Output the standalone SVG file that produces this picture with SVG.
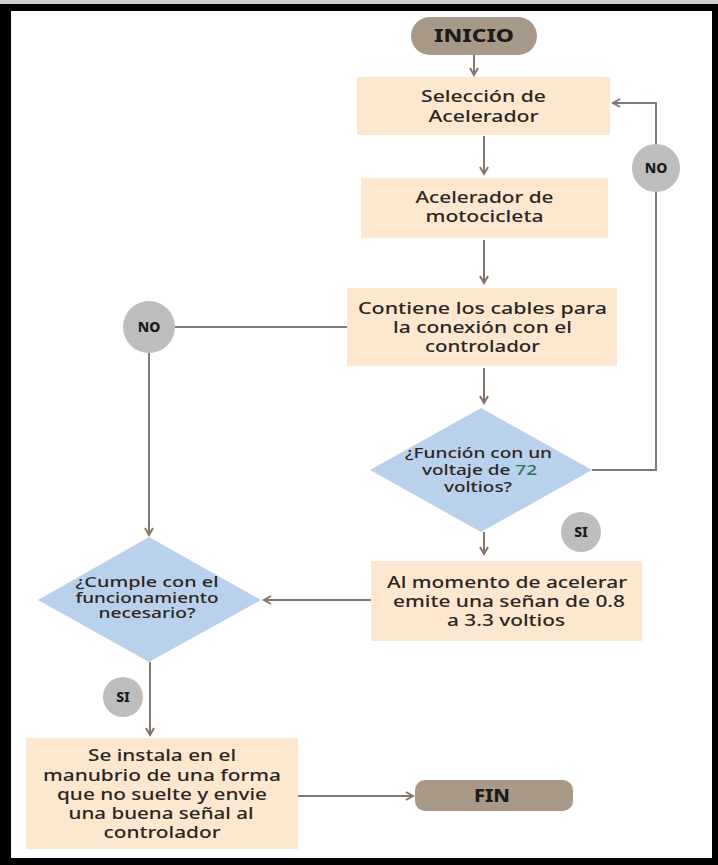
<svg xmlns="http://www.w3.org/2000/svg" width="718" height="865" viewBox="0 0 718 865">
<style>
.box{fill:#fde8cf}
.dia{fill:#b9d1ea}
.pill{fill:#a89887}
.circ{fill:#bdbdbd}
.t{font-family:"Noto Sans","Open Sans",sans-serif;font-weight:500;font-size:16px;fill:#2b2622;text-anchor:middle}
.ts{font-size:13.5px}
.tl{font-family:"Noto Sans",sans-serif;font-weight:800;font-size:14px;fill:#1a1a1a;text-anchor:middle}
.tp{font-family:"Noto Sans",sans-serif;font-weight:800;font-size:18px;fill:#1e1b19;text-anchor:middle}
.c{fill:none;stroke:#85776d;stroke-width:2}
</style>
<defs>
<marker id="ah" markerWidth="10" markerHeight="10" refX="8" refY="5" orient="auto" markerUnits="userSpaceOnUse">
<path d="M1,1 L8,5 L1,9" fill="none" stroke="#85776d" stroke-width="2"/>
</marker>
</defs>
<rect x="0" y="0" width="718" height="865" fill="#000"/>
<rect x="0" y="0" width="718" height="4" fill="#cfcfcf"/>
<rect x="11" y="11" width="701" height="847" fill="#fff"/>

<g id="connectors">
<line class="c" x1="474" y1="55" x2="474" y2="75" marker-end="url(#ah)"/>
<line class="c" x1="484" y1="136" x2="484" y2="174" marker-end="url(#ah)"/>
<line class="c" x1="484" y1="240" x2="484" y2="283" marker-end="url(#ah)"/>
<line class="c" x1="484" y1="368" x2="484" y2="403" marker-end="url(#ah)"/>
<polyline class="c" points="592,470 656,470 656,103 613,103" marker-end="url(#ah)"/>
<line class="c" x1="484" y1="532" x2="484" y2="554" marker-end="url(#ah)"/>
<line class="c" x1="371" y1="600" x2="264" y2="600" marker-end="url(#ah)"/>
<line class="c" x1="347" y1="327" x2="175" y2="327"/>
<line class="c" x1="149" y1="353" x2="149" y2="535" marker-end="url(#ah)"/>
<line class="c" x1="150" y1="662" x2="150" y2="735" marker-end="url(#ah)"/>
<line class="c" x1="298" y1="796" x2="413" y2="796" marker-end="url(#ah)"/>
</g>

<g id="inicio">
<rect class="pill" x="411" y="17" width="126" height="38" rx="19"/>
<text class="tp" x="474" y="42" textLength="80" lengthAdjust="spacingAndGlyphs">INICIO</text>
</g>
<g id="seleccion">
<rect class="box" x="357" y="77" width="253" height="58"/>
<text class="t" x="483.5" y="102" textLength="125" lengthAdjust="spacingAndGlyphs">Selección de</text>
<text class="t" x="483.5" y="122" textLength="110" lengthAdjust="spacingAndGlyphs">Acelerador</text>
</g>
<g id="acelerador">
<rect class="box" x="361" y="178" width="247" height="60"/>
<text class="t" x="484.5" y="203" textLength="138" lengthAdjust="spacingAndGlyphs">Acelerador de</text>
<text class="t" x="484.5" y="222" textLength="118" lengthAdjust="spacingAndGlyphs">motocicleta</text>
</g>
<g id="cables">
<rect class="box" x="347" y="288" width="270" height="78"/>
<text class="t" x="482.5" y="314" textLength="249" lengthAdjust="spacingAndGlyphs">Contiene los cables para</text>
<text class="t" x="482.5" y="333" textLength="179" lengthAdjust="spacingAndGlyphs">la conexión con el</text>
<text class="t" x="482.5" y="352" textLength="115" lengthAdjust="spacingAndGlyphs">controlador</text>
</g>
<g id="voltaje">
<polygon class="dia" points="481,408 592,470 481,532 370,470"/>
<text class="t ts" x="478.5" y="458" textLength="147" lengthAdjust="spacingAndGlyphs">¿Función con un</text>
<text class="t ts" x="479.5" y="475" textLength="115" lengthAdjust="spacingAndGlyphs">voltaje de <tspan fill="#2d7358">72</tspan></text>
<text class="t ts" x="478" y="492" textLength="68" lengthAdjust="spacingAndGlyphs">voltios?</text>
</g>
<g id="senal">
<rect class="box" x="371" y="561" width="271" height="80"/>
<text class="t" x="507" y="588" textLength="240" lengthAdjust="spacingAndGlyphs">Al momento de acelerar</text>
<text class="t" x="509" y="607" textLength="232" lengthAdjust="spacingAndGlyphs">emite una señan de 0.8</text>
<text class="t" x="506" y="626" textLength="118" lengthAdjust="spacingAndGlyphs">a 3.3 voltios</text>
</g>
<g id="cumple">
<polygon class="dia" points="149,537 261,600 149,662 38,600"/>
<text class="t ts" x="147" y="587" textLength="143" lengthAdjust="spacingAndGlyphs">¿Cumple con el</text>
<text class="t ts" x="147" y="602.5" textLength="143" lengthAdjust="spacingAndGlyphs">funcionamiento</text>
<text class="t ts" x="147" y="618" textLength="97" lengthAdjust="spacingAndGlyphs">necesario?</text>
</g>
<g id="instala">
<rect class="box" x="26" y="738" width="272" height="111"/>
<text class="t" x="162" y="761" textLength="148" lengthAdjust="spacingAndGlyphs">Se instala en el</text>
<text class="t" x="162" y="781" textLength="238" lengthAdjust="spacingAndGlyphs">manubrio de una forma</text>
<text class="t" x="162" y="800" textLength="210" lengthAdjust="spacingAndGlyphs">que no suelte y envie</text>
<text class="t" x="161" y="819" textLength="185" lengthAdjust="spacingAndGlyphs">una buena señal al</text>
<text class="t" x="162" y="838" textLength="117" lengthAdjust="spacingAndGlyphs">controlador</text>
</g>
<g id="fin">
<rect class="pill" x="415" y="780" width="158" height="31" rx="10"/>
<text class="tp" x="492" y="802" textLength="36" lengthAdjust="spacingAndGlyphs">FIN</text>
</g>
<g id="no1">
<circle class="circ" cx="656" cy="168" r="24"/>
<text class="tl" x="656" y="173">NO</text>
</g>
<g id="no2">
<circle class="circ" cx="149" cy="327" r="26"/>
<text class="tl" x="149" y="332">NO</text>
</g>
<g id="si1">
<circle class="circ" cx="581" cy="532" r="20"/>
<text class="tl" x="581" y="537">SI</text>
</g>
<g id="si2">
<circle class="circ" cx="123" cy="697" r="20"/>
<text class="tl" x="123" y="702">SI</text>
</g>
</svg>
